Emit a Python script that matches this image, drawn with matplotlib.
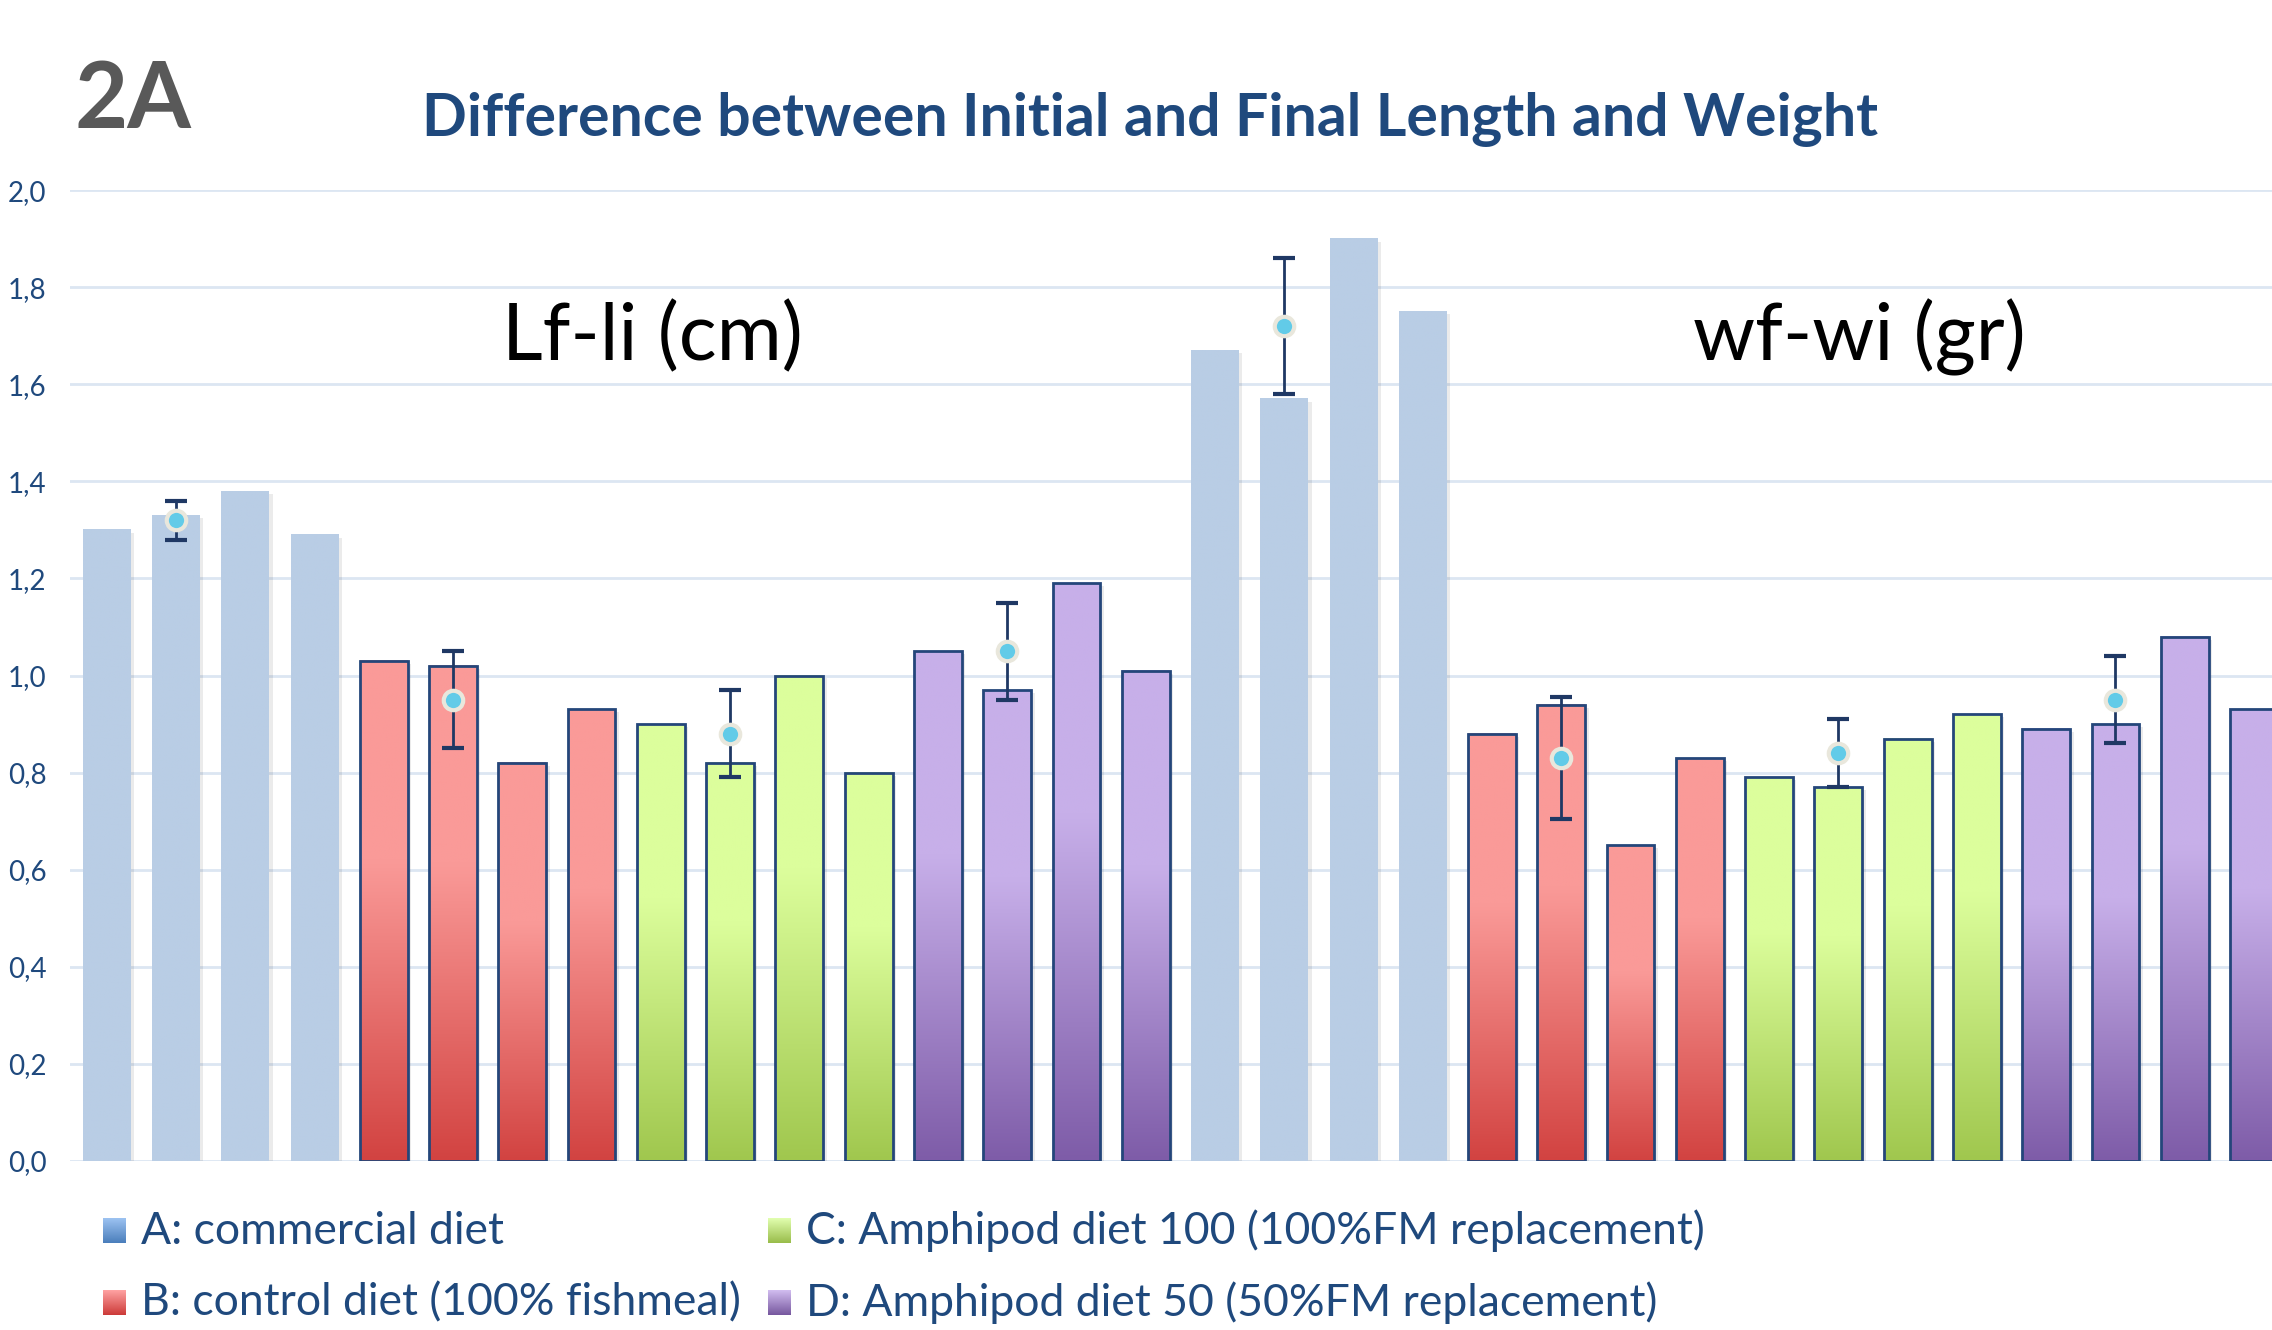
import numpy as np
import matplotlib
matplotlib.use('Agg')
import matplotlib.pyplot as plt
from matplotlib.patches import Rectangle
from matplotlib.colors import to_rgb

plt.rcParams['font.family'] = ['Lato', 'DejaVu Sans']

# -- data
diets = ['A', 'B', 'C', 'D']
legend_labels = ['A: commercial diet', 'B: control diet (100% fishmeal)',
                 'C: Amphipod diet 100 (100%FM replacement)', 'D: Amphipod diet 50 (50%FM replacement)']
lf_li = [1.30, 1.33, 1.38, 1.29,
         1.03, 1.02, 0.82, 0.93,
         0.90, 0.82, 1.00, 0.80,
         1.05, 0.97, 1.19, 1.01]
wf_wi = [1.67, 1.57, 1.90, 1.75,
         0.88, 0.94, 0.65, 0.83,
         0.79, 0.77, 0.87, 0.92,
         0.89, 0.90, 1.08, 0.93]
lf_mean = [1.32, 0.95, 0.88, 1.05]
lf_err = [0.04, 0.10, 0.09, 0.10]
wf_mean = [1.72, 0.83, 0.84, 0.95]
wf_err = [0.14, 0.125, 0.07, 0.09]
yticks = [0.0, 0.2, 0.4, 0.6, 0.8, 1.0, 1.2, 1.4, 1.6, 1.8, 2.0]

# bar fills (top colour, bottom colour); A is flat
bar_cols = {'A': ('#B9CDE5', '#B9CDE5'), 'B': ('#FA9A98', '#D24341'),
            'C': ('#DCFE9C', '#A0C74E'), 'D': ('#C7AFE9', '#7E5CA8')}
leg_cols = {'A': ('#9DC3F2', '#4A7EBB'), 'B': ('#FFA3A3', '#CC3A38'),
            'C': ('#E2FFB0', '#98BC4A'), 'D': ('#D2BDF0', '#76579E')}
navy = '#1F497D'
edge = '#24467A'


def gradient(top, bottom, n=200, hold=0.4):
    t = np.linspace(0, 1, n)
    f = np.clip(t / (1 - hold), 0, 1)[:, None]
    c0, c1 = np.array(to_rgb(bottom)), np.array(to_rgb(top))
    return (c0 + (c1 - c0) * f)[:, None, :]


values = lf_li + wf_wi
groups = [d for d in diets for _ in range(4)] * 2
x = np.arange(len(values))
w = 0.69

fig = plt.figure(figsize=(22.72, 13.30), dpi=100)
ax = fig.add_axes([0.0308, 0.1271, 0.9692, 0.7300])

for xi, v, g in zip(x, values, groups):
    top, bot = bar_cols[g]
    # soft shadow
    ax.add_patch(Rectangle((xi - w / 2 + 0.05, 0), w, v - 0.006, color='#000000', alpha=0.08, lw=0, zorder=1.5))
    ax.imshow(gradient(top, bot), extent=(xi - w / 2, xi + w / 2, 0, v), origin='lower',
              aspect='auto', zorder=2, interpolation='bilinear')
    if g != 'A':
        ax.add_patch(Rectangle((xi - w / 2, 0), w, v, fill=False, ec=edge, lw=2.0, zorder=3))

ax.set_xlim(-0.53, 31.26)
ax.set_ylim(0, 2.0)

# mean points with error bars, on the 2nd bar of every group
ex = [1, 5, 9, 13, 17, 21, 25, 29]
ax.errorbar(ex, lf_mean + wf_mean, yerr=lf_err + wf_err, fmt='o', ms=14, mfc='#62CBE8',
            mec='#E9E7DC', mew=3, ecolor='#1F3864', elinewidth=2, capsize=8, capthick=2, zorder=5)

ax.set_yticks(yticks)
ax.set_yticklabels([f'{t:.1f}'.replace('.', ',') for t in yticks])
ax.tick_params(axis='y', length=0, pad=17, labelsize=20, labelcolor=navy)
ax.set_xticks([])
ax.grid(axis='y', color='#DCE6F2', lw=2)
ax.set_axisbelow(True)
for s in ax.spines.values():
    s.set_visible(False)

fig.text(652 / 2272, 1 - 360 / 1330, 'Lf-li (cm)', fontsize=57, ha='center', va='baseline', color='black')
fig.text(1859 / 2272, 1 - 360 / 1330, 'wf-wi (gr)', fontsize=57, ha='center', va='baseline', color='black')

fig.text(75 / 2272, 1 - 128 / 1330, '2A', fontsize=66, fontweight='bold', color='#595959', va='baseline')
fig.text(1150 / 2272, 1 - 136 / 1330, 'Difference between Initial and Final Length and Weight',
         fontsize=42.5, fontweight='bold', color=navy, ha='center', va='baseline')

# legend
leg_pos = [(103, 1231), (103, 1303), (768, 1231), (768, 1303)]
for d, lab, (px, py) in zip(diets, legend_labels, leg_pos):
    sq = fig.add_axes([px / 2272, 1 - (py + 12) / 1330, 23 / 2272, 25 / 1330])
    sq.imshow(gradient(*leg_cols[d], hold=0.0), origin='lower', aspect='auto', extent=(0, 1, 0, 1))
    sq.axis('off')
    fig.text((px + 38) / 2272, 1 - py / 1330, lab, fontsize=32, color=navy, va='center')

fig.savefig('out.png', dpi=100)
